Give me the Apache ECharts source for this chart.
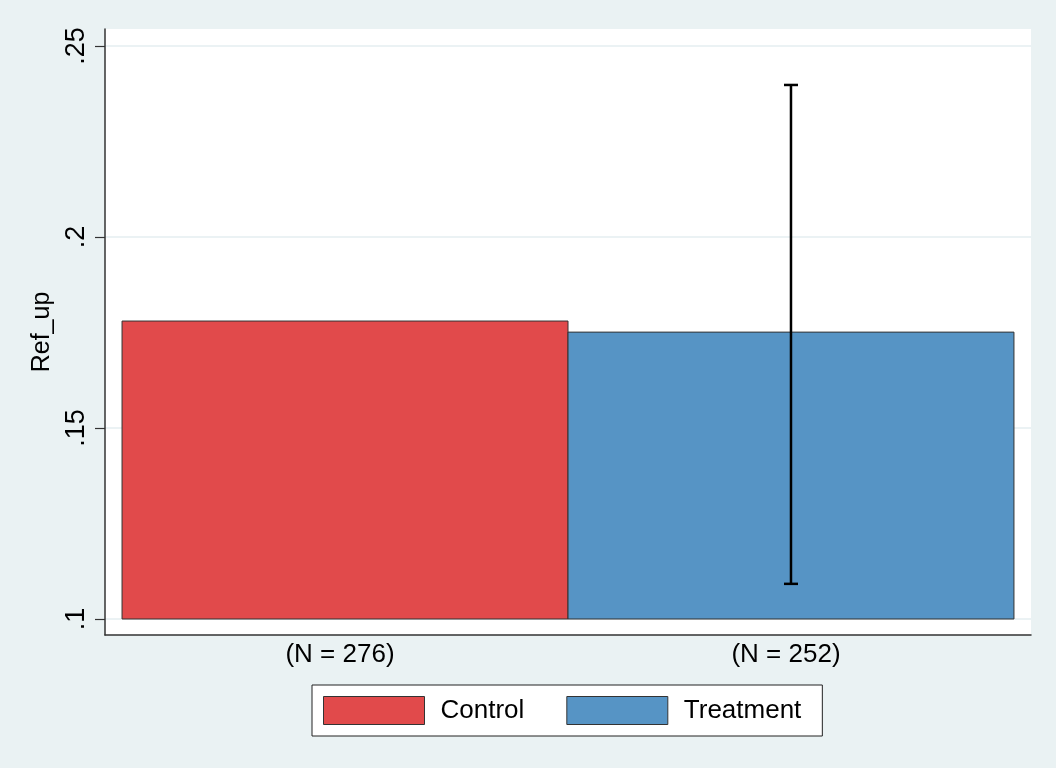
<!DOCTYPE html>
<html>
<head>
<meta charset="utf-8">
<script src="https://cdn.jsdelivr.net/npm/echarts@6/dist/echarts.min.js"></script>
<style>
  html, body { margin: 0; padding: 0; background: #eaf2f3; }
  #main { width: 1056px; height: 768px; }
</style>
</head>
<body>
<div id="main"></div>
<script>
// groups (one bar each), bars start at base .1
var groups = ["Control", "Treatment"];
var xLabels = ["(N = 276)", "(N = 252)"];
var positions = [1, 2];
var means = [0.178, 0.1751];
// confidence interval only drawn for Treatment
var ciLow = [null, 0.1092];
var ciHigh = [null, 0.2398];
var yTicks = [0.1, 0.15, 0.2, 0.25];
var colors = ["#e14a4b", "#5694c5"];
var base = 0.1;

var font = "Liberation Sans, Arial, sans-serif";

function barItem(params, api) {
  var x = api.value(0);
  var p1 = api.coord([x - 0.5, api.value(1)]);
  var p2 = api.coord([x + 0.5, base]);
  return {
    type: "rect",
    shape: { x: p1[0], y: p1[1], width: p2[0] - p1[0], height: p2[1] - p1[1] },
    style: { fill: api.visual("color"), stroke: "#333", lineWidth: 1 }
  };
}

var barSeries = groups.map(function (g, i) {
  return {
    name: g,
    type: "custom",
    renderItem: barItem,
    itemStyle: { color: colors[i], borderColor: "#333", borderWidth: 1 },
    encode: { x: 0, y: 1 },
    data: [[positions[i], means[i]]],
    z: 2
  };
});

var errData = [];
for (var i = 0; i < groups.length; i++) {
  if (ciLow[i] != null) errData.push([positions[i], ciLow[i], ciHigh[i]]);
}

var errSeries = {
  type: "custom",
  name: "ci",
  z: 5,
  encode: { x: 0, y: [1, 2] },
  renderItem: function (params, api) {
    var x = api.value(0);
    var lo = api.coord([x, api.value(1)]);
    var hi = api.coord([x, api.value(2)]);
    var cap = 7;
    var st = { stroke: "#000", lineWidth: 2.5 };
    return {
      type: "group",
      children: [
        { type: "line", shape: { x1: lo[0], y1: lo[1], x2: hi[0], y2: hi[1] }, style: st },
        { type: "line", shape: { x1: hi[0] - cap, y1: hi[1], x2: hi[0] + cap, y2: hi[1] }, style: st },
        { type: "line", shape: { x1: lo[0] - cap, y1: lo[1], x2: lo[0] + cap, y2: lo[1] }, style: st }
      ]
    };
  },
  data: errData
};

var chart = echarts.init(document.getElementById("main"));
chart.setOption({
  backgroundColor: "#eaf2f3",
  animation: false,
  textStyle: { fontFamily: font },
  grid: {
    left: 105, right: 25, top: 29, bottom: 133,
    show: true, backgroundColor: "#ffffff", borderWidth: 0
  },
  legend: {
    data: groups,
    left: 312,
    top: 685,
    orient: "horizontal",
    icon: "rect",
    itemWidth: 101,
    itemHeight: 28,
    itemGap: 42,
    padding: [11, 21, 11, 11],
    backgroundColor: "#ffffff",
    borderColor: "#222",
    borderWidth: 1,
    itemStyle: { borderColor: "#333", borderWidth: 1 },
    textStyle: { fontSize: 26, color: "#000", fontFamily: font, padding: [4, 0, 0, 11] }
  },
  xAxis: {
    type: "value",
    min: 0.4618,
    max: 2.5382,
    axisLine: { show: true, onZero: false, lineStyle: { color: "#333", width: 1.5 } },
    axisTick: { show: false },
    splitLine: { show: false },
    axisLabel: {
      customValues: positions,
      formatter: function (v) { return xLabels[Math.round(v) - 1]; },
      fontSize: 26,
      color: "#000",
      margin: 7,
      padding: [0, 10, 0, 0]
    }
  },
  yAxis: {
    type: "value",
    min: 0.09581,
    max: 0.25445,
    name: "Ref_up",
    nameLocation: "middle",
    nameRotate: 90,
    nameGap: 38,
    nameTextStyle: { fontSize: 25, color: "#000", fontFamily: font },
    axisLine: { show: true, lineStyle: { color: "#333", width: 1.5 } },
    axisTick: { show: true, customValues: yTicks, length: 10, lineStyle: { color: "#333", width: 1.2 } },
    splitLine: { show: true, lineStyle: { color: "#e4eef0", width: 1.5 } },
    axisLabel: {
      customValues: yTicks,
      rotate: 90,
      fontSize: 27,
      color: "#000",
      margin: 15,
      formatter: function (v) { return String(+v.toFixed(2)).replace(/^0/, ""); }
    }
  },
  series: barSeries.concat([errSeries])
});
</script>
</body>
</html>
